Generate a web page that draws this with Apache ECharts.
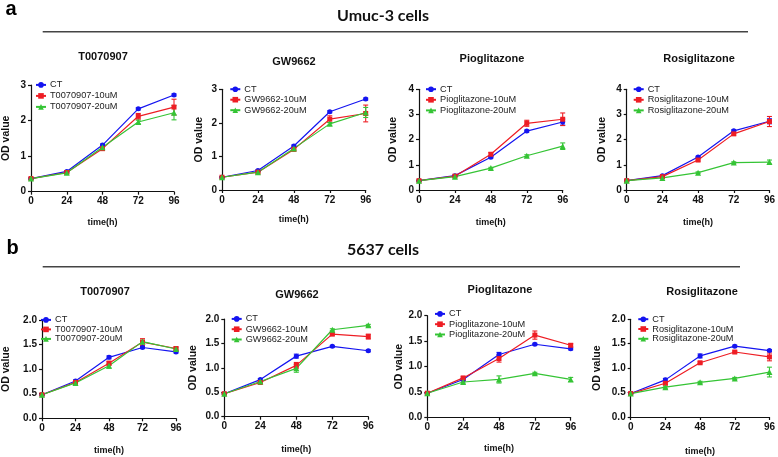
<!DOCTYPE html>
<html><head><meta charset="utf-8">
<script src="https://cdn.jsdelivr.net/npm/echarts@6/dist/echarts.min.js"></script>
<style>html,body{margin:0;padding:0;background:#fff}#c{width:778px;height:457px}</style>
</head><body><div id="c"></div>
<script>
// ---------- data ----------
const hours = [0, 24, 48, 72, 96];
const drugs = ['T0070907', 'GW9662', 'Pioglitazone', 'Rosiglitazone'];
const cellLines = ['Umuc-3 cells', '5637 cells'];
const umucYMax = [3, 3, 4, 4];
const c5637YMax = [2, 2, 2, 2];

// Umuc-3 (panel a), one row per drug
const umucCT = [
  [0.37, 0.57, 1.31, 2.33, 2.72],
  [0.38, 0.58, 1.31, 2.33, 2.71],
  [0.37, 0.57, 1.30, 2.34, 2.70],
  [0.37, 0.57, 1.31, 2.35, 2.73]
];
const umuc10 = [
  [0.37, 0.54, 1.21, 2.12, 2.38],
  [0.38, 0.53, 1.21, 2.11, 2.28],
  [0.37, 0.55, 1.42, 2.65, 2.81],
  [0.37, 0.53, 1.19, 2.23, 2.72]
];
const umuc20 = [
  [0.37, 0.53, 1.25, 1.96, 2.22],
  [0.38, 0.53, 1.24, 1.97, 2.31],
  [0.37, 0.53, 0.87, 1.36, 1.74],
  [0.37, 0.48, 0.69, 1.09, 1.11]
];
const umucCTerr = [
  [0.02, 0.02, 0.03, 0.03, 0.03],
  [0.02, 0.02, 0.03, 0.03, 0.03],
  [0.02, 0.02, 0.03, 0.04, 0.12],
  [0.02, 0.02, 0.03, 0.04, 0.10]
];
const umuc10err = [
  [0.02, 0.02, 0.04, 0.08, 0.22],
  [0.02, 0.02, 0.04, 0.10, 0.25],
  [0.02, 0.02, 0.06, 0.12, 0.25],
  [0.02, 0.02, 0.04, 0.05, 0.20]
];
const umuc20err = [
  [0.02, 0.02, 0.03, 0.05, 0.20],
  [0.02, 0.02, 0.03, 0.04, 0.15],
  [0.02, 0.02, 0.03, 0.04, 0.13],
  [0.02, 0.02, 0.03, 0.03, 0.08]
];

// 5637 (panel b)
const c5637CT = [
  [0.48, 0.76, 1.24, 1.44, 1.35],
  [0.47, 0.76, 1.24, 1.44, 1.35],
  [0.48, 0.75, 1.24, 1.44, 1.35],
  [0.48, 0.76, 1.25, 1.45, 1.36]
];
const c5637_10 = [
  [0.48, 0.73, 1.12, 1.55, 1.42],
  [0.47, 0.70, 1.05, 1.69, 1.64],
  [0.48, 0.78, 1.16, 1.62, 1.42],
  [0.48, 0.69, 1.11, 1.33, 1.23]
];
const c5637_20 = [
  [0.48, 0.72, 1.07, 1.56, 1.41],
  [0.47, 0.72, 0.99, 1.78, 1.87],
  [0.48, 0.70, 0.75, 0.87, 0.75],
  [0.48, 0.61, 0.71, 0.79, 0.92]
];
const c5637CTerr = [
  [0.01, 0.02, 0.03, 0.02, 0.02],
  [0.01, 0.02, 0.04, 0.02, 0.02],
  [0.01, 0.02, 0.04, 0.02, 0.02],
  [0.01, 0.03, 0.04, 0.02, 0.02]
];
const c5637_10err = [
  [0.01, 0.02, 0.04, 0.07, 0.03],
  [0.01, 0.02, 0.06, 0.02, 0.05],
  [0.01, 0.02, 0.07, 0.08, 0.03],
  [0.01, 0.02, 0.02, 0.02, 0.08]
];
const c5637_20err = [
  [0.01, 0.02, 0.05, 0.03, 0.02],
  [0.01, 0.02, 0.08, 0.02, 0.02],
  [0.01, 0.02, 0.07, 0.02, 0.04],
  [0.01, 0.02, 0.02, 0.02, 0.10]
];

// ---------- layout (styles / positions) ----------
const COLORS = ['#1414f0', '#ee1d24', '#35c435'];
const SYMBOLS = ['circle', 'rect', 'triangle'];
const SYMSIZE = [5, 5, 6];

const gridsA = [
  {left: 29, top: 85, width: 145, height: 106.7},
  {left: 222, top: 89.3, width: 143.7, height: 100.7},
  {left: 419, top: 89.3, width: 143.7, height: 100.7},
  {left: 626.7, top: 89.3, width: 143.3, height: 100.7}
];
const gridsB = [
  {left: 33.3, top: 320, width: 142.7, height: 98.3},
  {left: 224.3, top: 319, width: 144, height: 97.7},
  {left: 427.3, top: 315.7, width: 143.4, height: 102},
  {left: 630.7, top: 319.3, width: 141.3, height: 101.7}
];
const titlesA = [[103, 57], [294, 62], [492, 59], [699, 59]];
const titlesB = [[105, 292], [297, 295], [500, 290], [702, 292]];
const legA = [[35, 85, 11.2], [229.3, 89.3, 10.7], [425, 89.3, 10.8], [632.7, 89.3, 10.8]];
const legB = [[40, 320, 9.7], [230.7, 319, 10.5], [434, 314, 10.5], [637.3, 319.3, 10]];
const yNameGapA = [19, 17, 20, 19];
const yNameGapB = [30, 26, 22, 28];
const xNameGapA = [26, 25, 28, 28];
const xNameGapB = [28, 28, 26, 30];

const FONT = '"Liberation Sans", Arial, sans-serif';

const grid = [], xAxis = [], yAxis = [], series = [], legend = [], graphic = [];

function errRenderer(color) {
  return function (params, api) {
    const x = api.value(0), lo = api.value(1), hi = api.value(2);
    const p1 = api.coord([x, lo]), p2 = api.coord([x, hi]);
    const w = 2.5;
    const st = {stroke: color, lineWidth: 1.1};
    return {type: 'group', children: [
      {type: 'line', shape: {x1: p1[0], y1: p1[1], x2: p2[0], y2: p2[1]}, style: st},
      {type: 'line', shape: {x1: p1[0] - w, y1: p1[1], x2: p1[0] + w, y2: p1[1]}, style: st},
      {type: 'line', shape: {x1: p2[0] - w, y1: p2[1], x2: p2[0] + w, y2: p2[1]}, style: st}
    ]};
  };
}

function addPanel(g, yMax, vals, errs, drug, title, leg, yGap, xGap, decimals) {
  const idx = grid.length;
  grid.push(Object.assign({containLabel: false}, g));
  xAxis.push({
    gridIndex: idx, type: 'value', min: 0, max: 96, interval: 24,
    name: 'time(h)', nameLocation: 'middle', nameGap: xGap,
    nameTextStyle: {fontFamily: FONT, fontWeight: 'bold', fontSize: 9, color: '#111'},
    axisLine: {show: true, onZero: false, lineStyle: {color: '#111', width: 1.2}},
    axisTick: {show: true, length: 3, lineStyle: {color: '#111', width: 1.2}},
    axisLabel: {fontFamily: FONT, fontWeight: 'bold', fontSize: 10, color: '#111', margin: 5},
    splitLine: {show: false}
  });
  yAxis.push({
    gridIndex: idx, type: 'value', min: 0, max: yMax, interval: decimals ? 0.5 : 1,
    name: 'OD value', nameLocation: 'middle', nameGap: yGap, nameRotate: 90,
    nameTextStyle: {fontFamily: FONT, fontWeight: 'bold', fontSize: 10.5, color: '#111'},
    axisLine: {show: true, onZero: false, lineStyle: {color: '#111', width: 1.2}},
    axisTick: {show: true, length: 3, lineStyle: {color: '#111', width: 1.2}},
    axisLabel: {fontFamily: FONT, fontWeight: 'bold', fontSize: 10, color: '#111', margin: 5,
      formatter: v => decimals ? v.toFixed(1) : String(v)},
    splitLine: {show: false}
  });
  const names = ['CT', drug + '-10uM', drug + '-20uM'];
  for (let s = 0; s < 3; s++) {
    series.push({
      type: 'custom', xAxisIndex: idx, yAxisIndex: idx, silent: true, z: 1,
      renderItem: errRenderer(COLORS[s]),
      data: hours.map((h, i) => [h, vals[s][i] - errs[s][i], vals[s][i] + errs[s][i]])
    });
  }
  for (let s = 0; s < 3; s++) {
    series.push({
      type: 'line', name: names[s], xAxisIndex: idx, yAxisIndex: idx, z: 2,
      symbol: SYMBOLS[s], symbolSize: SYMSIZE[s], showSymbol: true,
      lineStyle: {color: COLORS[s], width: 1.2},
      itemStyle: {color: COLORS[s]},
      animation: false,
      data: hours.map((h, i) => [h, vals[s][i]])
    });
  }
  const fs = 9.2;
  legend.push({
    data: names, orient: 'vertical', left: leg[0], top: leg[1] - fs / 2,
    itemWidth: 10, itemHeight: 7, itemGap: leg[2] - fs, padding: 0,
    selectedMode: false,
    textStyle: {fontFamily: FONT, fontSize: fs, color: '#222', padding: [0, 0, 0, -1]}
  });
  graphic.push({type: 'text', x: title[0], y: title[1],
    style: {text: drug, font: 'bold 11px ' + FONT, fill: '#111', textAlign: 'center', textVerticalAlign: 'middle', align: 'center', verticalAlign: 'middle'}});
}

for (let d = 0; d < 4; d++) {
  addPanel(gridsA[d], umucYMax[d], [umucCT[d], umuc10[d], umuc20[d]],
    [umucCTerr[d], umuc10err[d], umuc20err[d]], drugs[d], titlesA[d], legA[d], yNameGapA[d], xNameGapA[d], false);
}
for (let d = 0; d < 4; d++) {
  addPanel(gridsB[d], c5637YMax[d], [c5637CT[d], c5637_10[d], c5637_20[d]],
    [c5637CTerr[d], c5637_10err[d], c5637_20err[d]], drugs[d], titlesB[d], legB[d], yNameGapB[d], xNameGapB[d], true);
}

// headers
const HFONT = 'Lato, "Open Sans", sans-serif';
graphic.push(
  {type: 'text', x: 11, y: 9, style: {text: 'a', font: 'bold 20px ' + FONT, fill: '#000', textAlign: 'center', textVerticalAlign: 'middle', align: 'center', verticalAlign: 'middle'}},
  {type: 'text', x: 12.5, y: 248, style: {text: 'b', font: 'bold 20px ' + FONT, fill: '#000', textAlign: 'center', textVerticalAlign: 'middle', align: 'center', verticalAlign: 'middle'}},
  {type: 'text', x: 383, y: 16, style: {text: cellLines[0], font: 'bold 16px ' + HFONT, fill: '#111', textAlign: 'center', textVerticalAlign: 'middle', align: 'center', verticalAlign: 'middle'}},
  {type: 'text', x: 383, y: 250, style: {text: cellLines[1], font: 'bold 16px ' + HFONT, fill: '#111', textAlign: 'center', textVerticalAlign: 'middle', align: 'center', verticalAlign: 'middle'}},
  {type: 'line', shape: {x1: 42.7, y1: 31.7, x2: 748, y2: 31.7}, style: {stroke: '#444', lineWidth: 1.6}},
  {type: 'line', shape: {x1: 42.7, y1: 266.7, x2: 740, y2: 266.7}, style: {stroke: '#444', lineWidth: 1.6}}
);

const chart = echarts.init(document.getElementById('c'), null, {renderer: 'canvas'});
chart.setOption({
  animation: false,
  backgroundColor: '#fff',
  grid, xAxis, yAxis, series, legend, graphic
});
</script>
</body></html>
